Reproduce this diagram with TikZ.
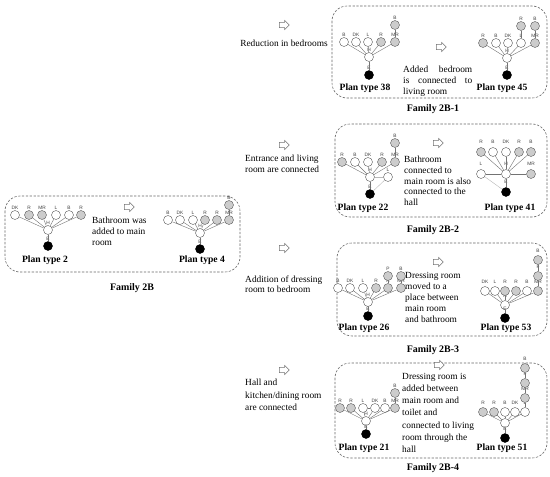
\documentclass[tikz,border=0pt]{standalone}
\usepackage{fontspec}
\setmainfont{Liberation Serif}
\newfontfamily\tagfont{Liberation Sans}
\usetikzlibrary{arrows.meta,positioning,shapes.arrows}

\tikzset{
  room/.style={circle, draw=black!65, line width=0.35pt, minimum size=0.27cm, inner sep=0pt},
  dry/.style={room, fill=white},
  wet/.style={room, fill=black!20},
  entry/.style={room, fill=black, draw=black},
  tag/.style={font=\tagfont\fontsize{4.1}{4.5}\selectfont, text=black!75, inner sep=0.3pt},
  link/.style={draw=black!55, line width=0.35pt},
  faint/.style={draw=black!28, line width=0.35pt},
  frame/.style={draw=black!60, dash pattern=on 2pt off 1.3pt, rounded corners=0.45cm, line width=0.5pt},
  hollow/.style={single arrow, draw=black!55, fill=white, line width=0.4pt,
                 minimum height=0.3cm, single arrow head extend=0.06cm, inner sep=0.07cm},
  note/.style={font=\fontsize{8}{9.3}\selectfont, align=left, inner sep=0pt, anchor=north west},
  plan/.style={font=\bfseries\fontsize{8.2}{9}\selectfont, inner sep=0pt},
  fam/.style={font=\bfseries\fontsize{8.5}{10}\selectfont, inner sep=0pt}
}

\begin{document}
\begin{tikzpicture}[x=0.03cm, y=-0.03cm]
\useasboundingbox (0,0) rectangle (550,477);

% ---- Family 2B
\draw[frame] (5,196) rectangle (240,272);
\node[fam] (f2b) at (132,288) {Family 2B};

% plan type 2
\node[dry, label={[tag]above:H}] (p2h) at (48,230) {};
\node[entry, label={[tag]above:E}] (p2x) at (48,246) {};
\foreach \n/\x/\t/\s in {a/15/DK/dry, b/29/R/wet, c/42/MR/wet, d/56/L/dry, e/69/B/dry, f/81/R/wet}
  {\node[\s, label={[tag]above:\t}] (p2\n) at (\x,215) {};
   \draw[link] (p2h) -- (p2\n);}
\draw[link] (p2h) -- (p2x);
\node[plan] (p2t) at (45,260) {Plan type 2};

\node[hollow] (a2) at (128,207) {};
\node[note] (n2) at (92,217) {Bathroom was\\added to main\\room};

% plan type 4
\node[dry, label={[tag]above:H}] (p4h) at (200,233) {};
\node[entry, label={[tag]above:E}] (p4x) at (200,249) {};
\foreach \n/\x/\t/\s in {a/168/B/dry, b/180/DK/dry, c/193/L/dry, d/205/R/wet, e/217/R/wet, f/229/MR/wet}
  {\node[\s, label={[tag]above:\t}] (p4\n) at (\x,220) {};
   \draw[link] (p4h) -- (p4\n);}
\node[wet, label={[tag]above:B}] (p4g) at (229,205) {};
\draw[link] (p4f) -- (p4g);
\draw[link] (p4h) -- (p4x);
\node[plan] (p4t) at (202,260) {Plan type 4};

% ---- Family 2B-1
\node[hollow] (a38) at (283,25) {};
\node[font=\fontsize{8}{9.3}\selectfont, inner sep=0pt] (n38) at (284,43) {Reduction in bedrooms};
\draw[frame] (332,6) rectangle (547,98);
\node[fam] (f2b1) at (433,109) {Family 2B-1};

% plan type 38
\node[dry, label={[tag]above:H}] (p38h) at (369,57) {};
\node[entry, label={[tag]above:E}] (p38x) at (369,75) {};
\foreach \n/\x/\t/\s in {a/344/B/dry, b/356/DK/dry, c/368/L/dry, d/381/R/wet, e/395/MR/wet}
  {\node[\s, label={[tag]above:\t}] (p38\n) at (\x,42) {};
   \draw[link] (p38h) -- (p38\n);}
\node[wet, label={[tag]above:B}] (p38f) at (395,25) {};
\draw[link] (p38e) -- (p38f);
\draw[link] (p38h) -- (p38x);
\node[plan] (p38t) at (365,88) {Plan type 38};

\node[hollow] (a45) at (440,47) {};
\node[note] (n45) at (403,66) {\makebox[2.07cm][s]{Added bedroom}\\\makebox[2.07cm][s]{is connected to}\\living room};

% plan type 45
\node[dry, label={[tag]above:H}] (p45h) at (507,58) {};
\node[entry, label={[tag]above:E}] (p45x) at (507,75) {};
\foreach \n/\x/\t/\s in {a/483/R/wet, b/496/B/dry, c/508/DK/dry, d/521/L/dry, e/535/MR/wet}
  {\node[\s, label={[tag]above:\t}] (p45\n) at (\x,43) {};
   \draw[link] (p45h) -- (p45\n);}
\node[wet, label={[tag]above:R}] (p45f) at (521,26) {};
\node[wet, label={[tag]above:B}] (p45g) at (535,26) {};
\draw[link] (p45d) -- (p45f);
\draw[link] (p45e) -- (p45g);
\draw[link] (p45h) -- (p45x);
\node[plan] (p45t) at (502,88) {Plan type 45};

% ---- Family 2B-2
\node[hollow] (a22) at (283,145) {};
\node[note] (n22) at (245,155) {Entrance and living\\room are connected};
\draw[frame] (335,124) rectangle (547,217);
\node[fam] (f2b2) at (433,230) {Family 2B-2};

% plan type 22
\node[dry, label={[tag]above:H}] (p22h) at (370,177) {};
\node[dry, label={[tag]above:L}] (p22l) at (388,177) {};
\node[entry, label={[tag]above:E}] (p22x) at (370,194) {};
\foreach \n/\x/\t/\s in {a/342/R/wet, b/355/B/dry, c/368/DK/dry, d/382/R/wet, e/395/MR/wet}
  {\node[\s, label={[tag]above:\t}] (p22\n) at (\x,162) {};
   \draw[link] (p22h) -- (p22\n);}
\node[wet, label={[tag]above:B}] (p22f) at (395,143) {};
\draw[link] (p22e) -- (p22f);
\draw[link] (p22h) -- (p22x);
\draw[faint] (p22h) -- (p22l);
\draw[faint] (p22x) -- (p22l);
\node[plan] (p22t) at (363,208) {Plan type 22};

\node[hollow] (a41) at (437,143) {};
\node[note, font=\fontsize{8}{9.1}\selectfont] (n41) at (404,156) {Bathroom\\connected to\\main room is also\\connected to the\\hall};

% plan type 41
\begin{scope}[every node/.append style={minimum size=0.34cm}]
\node[dry, label={[tag]above:H}] (p41h) at (506,174) {};
\node[dry, label={[tag]above:L}] (p41l) at (481,174) {};
\node[wet, label={[tag]above:MR}] (p41m) at (531,174) {};
\node[entry, label={[tag]above:E}] (p41x) at (506,192) {};
\foreach \n/\x/\t/\s in {a/481/R/wet, b/493/B/dry, c/506/DK/dry, d/519/R/wet, e/531/B/wet}
  {\node[\s, label={[tag]above:\t}] (p41\n) at (\x,152) {};
   \draw[link] (p41h) -- (p41\n);}
\end{scope}
\draw[link] (p41h) -- (p41l);
\draw[link] (p41h) -- (p41m);
\draw[link] (p41h) -- (p41x);
\draw[faint] (p41x) -- (p41l);
\node[plan] (p41t) at (510,208) {Plan type 41};

% ---- Family 2B-3
\node[hollow] (a26) at (283,248) {};
\node[note, font=\fontsize{8}{8.6}\selectfont] (n26) at (245,276) {Addition of dressing\\room to bedroom};
\draw[frame] (337,243) rectangle (547,336);
\node[fam] (f2b3) at (433,350) {Family 2B-3};

% plan type 26
\node[dry, label={[tag]above:H}] (p26h) at (368,302) {};
\node[entry, label={[tag]above:E}] (p26x) at (368,316) {};
\foreach \n/\x/\t/\s in {a/338/B/dry, b/350/DK/dry, c/363/L/dry, d/376/R/wet, e/388/R/wet, f/401/MR/wet}
  {\node[\s, label={[tag]above:\t}] (p26\n) at (\x,288) {};
   \draw[link] (p26h) -- (p26\n);}
\node[wet, label={[tag]above:P}] (p26g) at (388,276) {};
\node[wet, label={[tag]above:B}] (p26k) at (401,276) {};
\draw[link] (p26e) -- (p26g);
\draw[link] (p26f) -- (p26k);
\draw[link] (p26h) -- (p26x);
\node[plan] (p26t) at (364,328) {Plan type 26};

\node[hollow] (a53) at (437,262) {};
\node[note] (n53) at (405,272) {Dressing room\\moved to a\\place between\\main room\\and bathroom};

% plan type 53
\begin{scope}[every node/.append style={minimum size=0.25cm}]
\node[dry, label={[tag]above:H}] (p53h) at (505,305) {};
\node[entry, label={[tag]above:E}] (p53x) at (505,318) {};
\foreach \n/\x/\t/\s in {a/485/DK/dry, b/495/L/dry, c/505/R/wet, d/516/R/wet, e/527/B/dry, f/538/MR/wet}
  {\node[\s, label={[tag]above:\t}] (p53\n) at (\x,291) {};
   \draw[link] (p53h) -- (p53\n);}
\node[wet, label={[tag]above:F}] (p53g) at (538,276) {};
\node[wet, label={[tag]above:B}] (p53k) at (538,260) {};
\end{scope}
\draw[link] (p53f) -- (p53g);
\draw[link] (p53g) -- (p53k);
\draw[link] (p53h) -- (p53x);
\node[plan] (p53t) at (506,328) {Plan type 53};

% ---- Family 2B-4
\node[hollow] (a21) at (283,370) {};
\node[note, font=\fontsize{8}{10.6}\selectfont] (n21) at (245,379) {Hall and\\kitchen/dining room\\are connected};
\draw[frame] (335,363) rectangle (547,458);
\node[fam] (f2b4) at (433,468) {Family 2B-4};

% plan type 21
\node[dry, label={[tag]above:H}] (p21h) at (366,421) {};
\node[entry, label={[tag]above:E}] (p21x) at (366,434) {};
\foreach \n/\x/\t/\s in {a/340/R/wet, b/351/R/wet, c/363/L/dry, d/375/DK/dry, e/385/B/dry, f/395/MR/wet}
  {\node[\s, label={[tag]above:\t}] (p21\n) at (\x,408) {};
   \draw[link] (p21h) -- (p21\n);}
\node[wet, label={[tag]above:B}] (p21g) at (395,393) {};
\draw[link] (p21f) -- (p21g);
\draw[link] (p21c) -- (p21d);
\draw[link] (p21h) -- (p21x);
\node[plan] (p21t) at (364,448) {Plan type 21};

\node[hollow] (a51) at (438,365) {};
\node[note, font=\fontsize{8}{10.4}\selectfont] (n51) at (402,373) {Dressing room is\\added between\\main room and\\toilet and\\connected to living\\room through the\\hall};

% plan type 51
\begin{scope}[every node/.append style={minimum size=0.25cm}]
\node[dry, label={[tag]above:H}] (p51h) at (505,423) {};
\node[entry, label={[tag]above:E}] (p51x) at (505,438) {};
\foreach \n/\x/\t/\s in {a/483/R/wet, b/494/R/wet, c/505/B/dry, d/515/DK/dry, e/525/L/dry}
  {\node[\s, label={[tag]above:\t}] (p51\n) at (\x,412) {};
   \draw[link] (p51h) -- (p51\n);}
\node[wet, label={[tag]above:MR}] (p51f) at (525,398) {};
\node[wet, label={[tag]above:F}] (p51g) at (525,383) {};
\node[wet, label={[tag]above:B}] (p51k) at (525,368) {};
\end{scope}
\draw[link] (p51e) -- (p51f);
\draw[link] (p51f) -- (p51g);
\draw[link] (p51g) -- (p51k);
\draw[link] (p51h) -- (p51x);
\node[plan] (p51t) at (502,448) {Plan type 51};
\end{tikzpicture}
\end{document}
